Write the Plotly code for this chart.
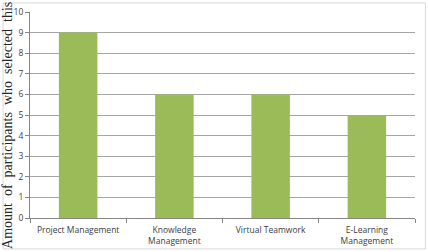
import plotly.graph_objects as go

categories = ["Project Management", "Knowledge<br>Management", "Virtual Teamwork", "E-Learning<br>Management"]
values = [9, 6, 6, 5]
y_ticks = list(range(0, 11))
y_title = "Amount of participants who selected this"

fig = go.Figure(go.Bar(x=categories, y=values, marker=dict(color="#9BBB59", line=dict(width=0))))

fig.update_layout(
    width=428, height=252,
    margin=dict(l=30, r=13, t=12, b=34, autoexpand=False),
    paper_bgcolor="white", plot_bgcolor="white",
    bargap=0.6, showlegend=False,
    font=dict(family="Open Sans, Liberation Sans, sans-serif", size=9, color="#404040"),
    shapes=[dict(type="rect", xref="paper", yref="paper", x0=-0.07, x1=1.027, y0=-0.15, y1=1.044,
                 line=dict(color="#d9d9d9", width=1))],
    annotations=[dict(text=y_title.replace(" ", "\u00a0 "), textangle=-90, xref="paper", yref="paper",
                      x=-0.058, y=0.45, xanchor="center", yanchor="middle", showarrow=False,
                      font=dict(family="Liberation Serif, Times New Roman, serif", size=14, color="#262626"))],
)
fig.update_xaxes(
    tickson="boundaries", ticks="outside", ticklen=4, tickcolor="#868686",
    showline=True, linecolor="#868686", linewidth=1, showgrid=False, automargin=False,
    tickfont=dict(size=8.5, color="#404040"), ticklabelstandoff=4, tickangle=0,
)
fig.update_yaxes(
    range=[0, 10], tickvals=y_ticks, ticks="outside", ticklen=4, tickcolor="#868686",
    showline=True, linecolor="#868686", linewidth=1, automargin=False,
    gridcolor="#a6a6a6", gridwidth=1, zeroline=False,
    tickfont=dict(size=8.5, color="#404040"),
)
fig.write_html("out.html")
